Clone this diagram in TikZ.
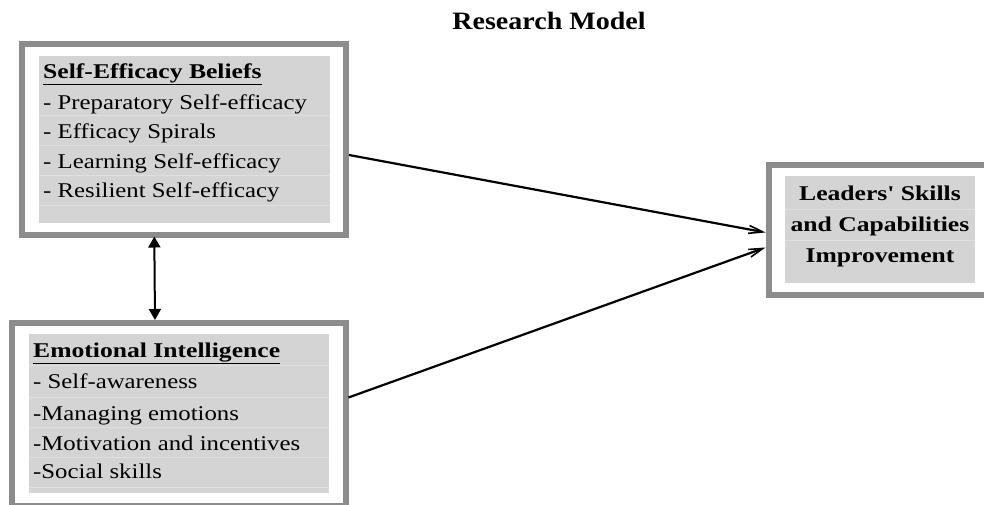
\documentclass[tikz,border=0pt]{standalone}
\usepackage{fontspec}
\setmainfont{Liberation Serif}
\newfontfamily\boxfont[FakeStretch=1.18]{Liberation Serif}
\newfontfamily\boxboldfont[FakeStretch=1.22]{Liberation Serif}
\newfontfamily\titlefont[FakeStretch=1.12]{Liberation Serif}
\usetikzlibrary{arrows.meta,calc}

\definecolor{framegray}{HTML}{8C8C8C}
\definecolor{fillgray}{HTML}{D4D4D4}
\definecolor{rulegray}{HTML}{DFDFDF}

\tikzset{
  frame/.style={draw=framegray, line width=6pt, fill=white, inner sep=0pt},
  panel/.style={fill=fillgray, draw=none, inner sep=0pt},
  rowrule/.style={draw=rulegray, line width=0.8pt},
  itemtext/.style={anchor=base west, inner sep=0pt, font=\boxfont\fontsize{21}{21}\selectfont},
  headtext/.style={itemtext, font=\boxboldfont\bfseries\fontsize{21}{21}\selectfont},
  outtext/.style={anchor=base, inner sep=0pt, font=\boxboldfont\bfseries\fontsize{21}{21}\selectfont},
  link/.style={line width=2.2pt, -{Straight Barb[length=14pt,width=8pt,line width=1.6pt]}},
  both/.style={line width=2pt, {Triangle[length=11pt,width=12pt]}-{Triangle[length=11pt,width=12pt]}}
}

\begin{document}
\begin{tikzpicture}[x=1pt,y=-1pt]
\useasboundingbox (0,0) rectangle (984,504);

% title
\node[anchor=base, inner sep=0pt, font=\titlefont\bfseries\fontsize{25}{25}\selectfont] (title) at (549,29) {Research Model};

% outer frames
\node[frame, minimum width=324pt, minimum height=190.5pt] (seb) at (184,139.25) {};
\node[frame, minimum width=333.5pt, minimum height=183pt] (ei) at (178.75,414.5) {};
\node[frame, minimum width=223pt, minimum height=130.5pt] (lsc) at (880,229.75) {};

% shaded panels
\node[panel, minimum width=291pt, minimum height=167pt] (sebp) at (184.5,139.5) {};
\node[panel, minimum width=300pt, minimum height=159pt] (eip) at (179,413.5) {};
\node[panel, minimum width=190pt, minimum height=107pt] (lscp) at (880,229.5) {};

% row rules inside the panels
\foreach \yy in {115,145,175,205} \draw[rowrule] (sebp.west |- 0,\yy) -- (sebp.east |- 0,\yy);
\foreach \yy in {365,397,427,457,487} \draw[rowrule] (eip.west |- 0,\yy) -- (eip.east |- 0,\yy);
\foreach \yy in {209,240} \draw[rowrule] (lscp.west |- 0,\yy) -- (lscp.east |- 0,\yy);

% self-efficacy beliefs
\node[headtext] (seb0) at (43,78) {\underline{Self-Efficacy Beliefs}};
\node[itemtext] (seb1) at (43,109) {- Preparatory Self-efficacy};
\node[itemtext] (seb2) at (43,138) {- Efficacy Spirals};
\node[itemtext] (seb3) at (43,168) {- Learning Self-efficacy};
\node[itemtext] (seb4) at (43,197) {- Resilient Self-efficacy};

% emotional intelligence
\node[headtext] (ei0) at (33,357) {\underline{Emotional Intelligence}};
\node[itemtext] (ei1) at (33,388) {- Self-awareness};
\node[itemtext] (ei2) at (33,420) {-Managing emotions};
\node[itemtext] (ei3) at (33,450) {-Motivation and incentives};
\node[itemtext] (ei4) at (33,478) {-Social skills};

% outcome
\node[outtext] (lsc1) at (880,200) {Leaders' Skills};
\node[outtext] (lsc2) at (880,231) {and Capabilities};
\node[outtext] (lsc3) at (880,262) {Improvement};

% connectors
\draw[link] ($(seb.north east)!0.58!(seb.south east)$) -- ($(lsc.north west)!0.52!(lsc.south west)$);
\draw[link] ($(ei.north east)!0.41!(ei.south east)$) -- ($(lsc.north west)!0.63!(lsc.south west)$);
\draw[both] ($(seb.south west)!0.41!(seb.south east)+(0,-1)$) -- ($(ei.north west)!0.43!(ei.north east)$);
\end{tikzpicture}
\end{document}
